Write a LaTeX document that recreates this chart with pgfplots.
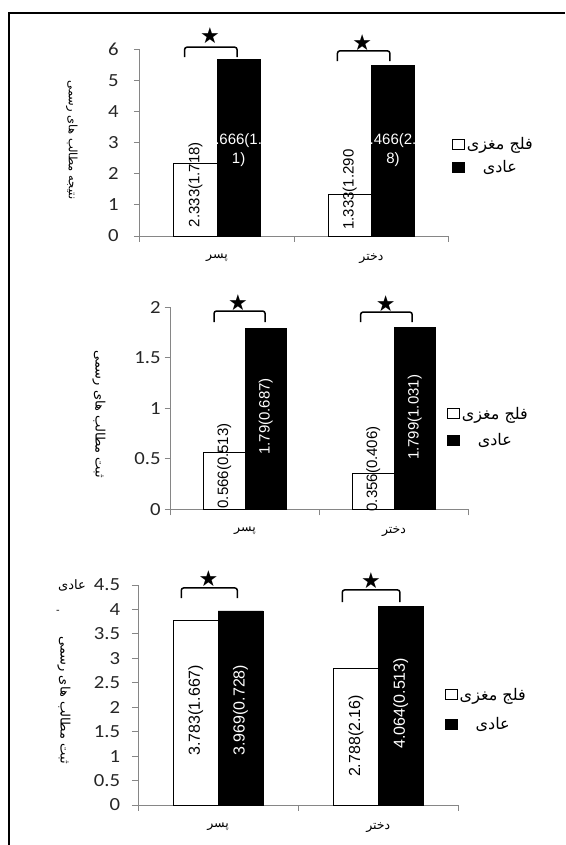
\documentclass[border=0pt]{standalone}
\usepackage{fontspec}
\usepackage{pgfplots}
\pgfplotsset{compat=1.18}
\TeXXeTstate=1
\newfontfamily\arabicfont[Script=Arabic]{DejaVu Sans}
\newfontfamily\carlito{Carlito}
\newfontfamily\lab{Liberation Sans}
\newfontfamily\dejavu{DejaVu Sans}
\definecolor{axgray}{RGB}{134,134,134}

\pgfplotsset{
 panel/.style={
  scale only axis, anchor=south west, clip=false,
  xmin=-0.5, xmax=1.5, ymin=0,
  axis x line=bottom, axis y line=left,
  axis line style={draw=axgray, line width=0.9pt, -},
  xtick={0,1},
  xticklabels={{\beginR پسر\endR},{\beginR دختر\endR}},
  minor xtick={-0.5,0.5,1.5},
  major x tick style={draw=none},
  minor x tick style={draw=axgray, line width=0.9pt},
  y tick style={draw=axgray, line width=0.9pt},
  tick align=outside,
  major tick length=6pt, minor tick length=6pt,
  /pgf/number format/assume math mode=true,
  yticklabel style={font=\carlito\fontsize{18.5}{20}\selectfont, text=black!85, xscale=1.12},
  xticklabel style={font=\arabicfont\fontsize{12.5}{14}\selectfont, yshift=-8pt},
  legend cell align=center,
  legend style={draw=none, fill=none, inner sep=0pt, font=\arabicfont\fontsize{16}{17}\selectfont, anchor=west},
 },
 wbar/.style={ybar, bar width=0.28, bar shift=-0.14, fill=white, draw=black, line width=0.6pt,
   legend image code/.code={\draw[fill=white,draw=black,line width=0.6pt] (0pt,-5pt) rectangle (12pt,5pt);}},
 bbar/.style={ybar, bar width=0.28, bar shift=0.14, fill=black, draw=black, line width=0.6pt,
   legend image code/.code={\draw[fill=black,draw=black,line width=0.6pt] (0pt,-5pt) rectangle (12pt,5pt);}},
}
\tikzset{
 brk/.style={line width=1.5pt, rounded corners=2.5pt},
 star/.style={font=\dejavu\fontsize{22}{22}\selectfont, inner sep=0pt},
 vlab/.style={rotate=90, font=\lab\fontsize{15}{17}\selectfont, inner sep=0pt},
}

\begin{document}
\begin{tikzpicture}
\useasboundingbox (0,0) rectangle (565pt,845pt);
\draw[line width=1.2pt] (565pt,832pt) -- (9pt,832pt) -- (9pt,0pt);

% ---------- Panel 1
\begin{axis}[panel, at={(139.8pt,609pt)}, width=308.8pt, height=187pt,
  ymax=6, ytick={0,1,...,6}, yticklabel style={xshift=-10pt},
  ylabel={\arabicfont\beginR نتیجه مطالب های رسمی\endR},
  every axis y label/.style={at={(axis description cs:-0.22,0.513)}, rotate=-90, anchor=center, font=\arabicfont\fontsize{11.5}{13}\selectfont},
  legend style={at={(axis description cs:1.011,0.428)}, row sep=5pt}]
\addplot[wbar] coordinates {(0,2.333) (1,1.333)};
\addlegendentry{\beginR فلج مغزی\endR}
\addplot[bbar] coordinates {(0,5.666) (1,5.466)};
\addlegendentry{\beginR عادی\endR}
\node[vlab] at (axis cs:-0.14,1.65) {2.333(1.718)};
\node[vlab] at (axis cs:0.86,1.49) {1.333(1.290};
\node[white, align=center, font=\lab\fontsize{15}{19}\selectfont, inner sep=0pt] at (axis cs:0.14,2.76) {5.666(1.8\\1)};
\node[white, align=center, font=\lab\fontsize{15}{19}\selectfont, inner sep=0pt] at (axis cs:1.14,2.76) {5.466(2.2\\8)};
\draw[brk] (axis cs:-0.21,5.74) -- (axis cs:-0.21,6.06) -- (axis cs:0.13,6.06) -- (axis cs:0.13,5.74);
\draw[brk] (axis cs:0.78,5.61) -- (axis cs:0.78,5.94) -- (axis cs:1.12,5.94) -- (axis cs:1.12,5.61);
\node[star] at (axis cs:-0.045,6.42) {★};
\node[star] at (axis cs:0.94,6.19) {★};
\end{axis}

% ---------- Panel 2
\begin{axis}[panel, at={(170.5pt,335.7pt)}, width=298pt, height=202pt,
  ymax=2, ytick={0,0.5,1,1.5,2},
  ylabel={\arabicfont\beginR ثبت مطالب های رسمی\endR},
  every axis y label/.style={at={(axis description cs:-0.24,0.47)}, rotate=-90, anchor=center, font=\arabicfont\fontsize{13}{15}\selectfont},
  legend style={at={(axis description cs:0.928,0.407)}, row sep=9pt}]
\addplot[wbar] coordinates {(0,0.566) (1,0.356)};
\addlegendentry{\beginR فلج مغزی\endR}
\addplot[bbar] coordinates {(0,1.79) (1,1.799)};
\addlegendentry{\beginR عادی\endR}
\node[vlab] at (axis cs:-0.14,0.43) {0.566(0.513)};
\node[vlab] at (axis cs:0.86,0.40) {0.356(0.406)};
\node[vlab, white] at (axis cs:0.14,0.92) {1.79(0.687)};
\node[vlab, white] at (axis cs:1.14,0.91) {1.799(1.031)};
\draw[brk] (axis cs:-0.208,1.854) -- (axis cs:-0.208,1.963) -- (axis cs:0.135,1.963) -- (axis cs:0.135,1.854);
\draw[brk] (axis cs:0.776,1.854) -- (axis cs:0.776,1.953) -- (axis cs:1.122,1.953) -- (axis cs:1.122,1.854);
\node[star] at (axis cs:-0.047,2.05) {★};
\node[star] at (axis cs:0.945,2.04) {★};
\end{axis}

% ---------- Panel 3
\begin{axis}[panel, at={(138pt,40pt)}, width=320.4pt, height=220pt,
  ymax=4.5, ytick={0,0.5,1,1.5,2,2.5,3,3.5,4,4.5}, yticklabel style={xshift=-7pt},
  ylabel={\arabicfont\beginR ثبت مطالب های رسمی\endR},
  every axis y label/.style={at={(axis description cs:-0.231,0.477)}, rotate=-90, anchor=center, font=\arabicfont\fontsize{13}{15}\selectfont},
  legend style={at={(axis description cs:0.958,0.434)}, row sep=12pt}]
\addplot[wbar] coordinates {(0,3.783) (1,2.788)};
\addlegendentry{\beginR فلج مغزی\endR}
\addplot[bbar] coordinates {(0,3.969) (1,4.064)};
\addlegendentry{\beginR عادی\endR}
\node[vlab, font=\lab\fontsize{16}{18}\selectfont] at (axis cs:-0.14,1.94) {3.783(1.667)};
\node[vlab, font=\lab\fontsize{16}{18}\selectfont] at (axis cs:0.86,1.41) {2.788(2.16)};
\node[vlab, white, font=\lab\fontsize{16}{18}\selectfont] at (axis cs:0.14,1.94) {3.969(0.728)};
\node[vlab, white, font=\lab\fontsize{16}{18}\selectfont] at (axis cs:1.14,2.08) {4.064(0.513)};
\draw[brk] (axis cs:-0.23,4.23) -- (axis cs:-0.23,4.44) -- (axis cs:0.12,4.44) -- (axis cs:0.12,4.23);
\draw[brk] (axis cs:0.775,4.15) -- (axis cs:0.775,4.40) -- (axis cs:1.135,4.40) -- (axis cs:1.135,4.15);
\node[star] at (axis cs:-0.06,4.64) {★};
\node[star] at (axis cs:0.954,4.58) {★};
\node[anchor=east, font=\arabicfont\fontsize{13}{15}\selectfont, inner sep=0pt] at (axis description cs:-0.162,1.0) {\beginR عادی\endR};
\node[font=\arabicfont\fontsize{10}{12}\selectfont, inner sep=0pt] at (axis description cs:-0.25,0.877) {-};
\end{axis}
\end{tikzpicture}
\end{document}
